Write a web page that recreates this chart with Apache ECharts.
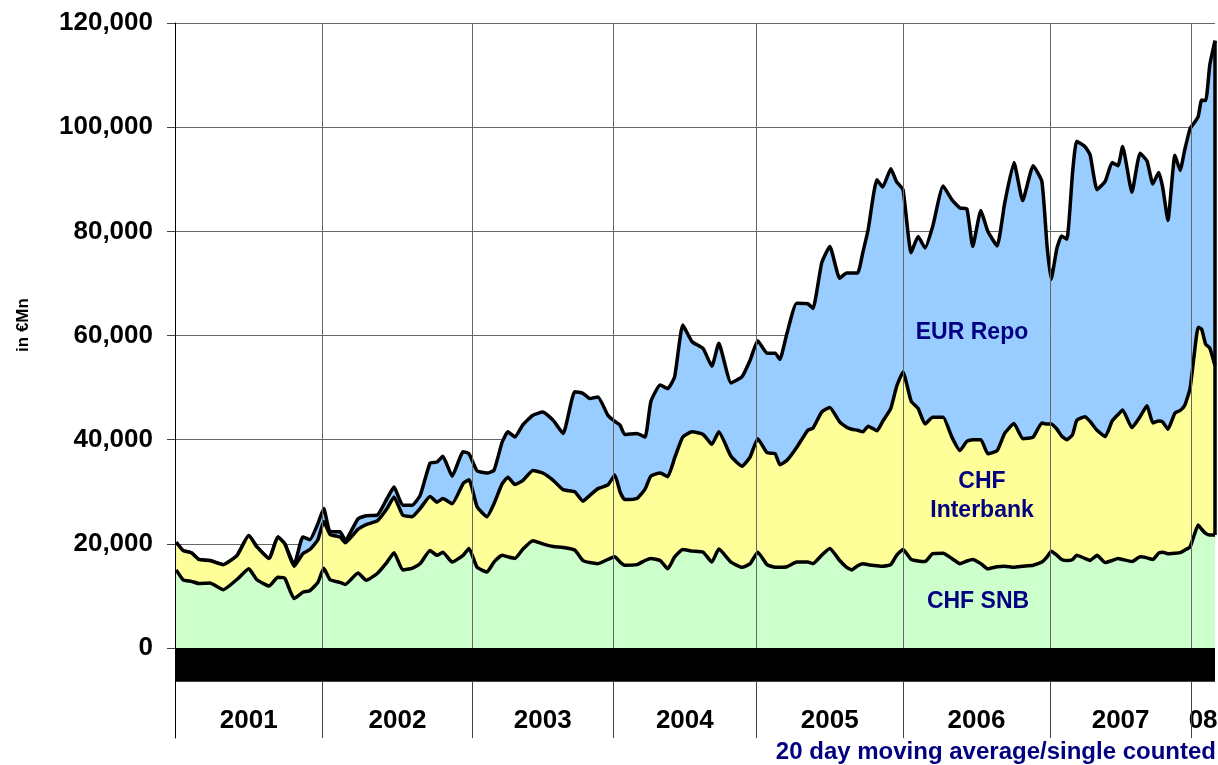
<!DOCTYPE html>
<html>
<head>
<meta charset="utf-8">
<title>CHF SNB / CHF Interbank / EUR Repo</title>
<script src="https://cdn.jsdelivr.net/npm/echarts@6/dist/echarts.min.js"></script>
<style>
  html, body { margin: 0; padding: 0; background: #fff; }
  #chart { width: 1218px; height: 765px; }
</style>
</head>
<body>
<div id="chart"></div>
<script>
// business-day index since start of 2001 (x axis)
var dayIndex = [
  2, 14, 28, 41, 60, 83, 107, 127, 141, 162, 177, 189, 205, 220, 232, 246,
  256, 267, 284, 293, 315, 329, 348, 365, 377, 392, 408, 422, 439, 451, 461, 477, 496,
  506, 520, 537, 549, 563, 573, 585, 599, 616, 633, 651, 668, 688, 702, 714, 728, 745,
  757, 766, 774, 795, 809, 819, 835, 848, 860, 874, 890, 909, 924, 936, 957, 976, 990,
  1003, 1019, 1033, 1041, 1053, 1070, 1089, 1098, 1113, 1127, 1144, 1156, 1165, 1175, 1184, 1193, 1208, 1218, 1232, 1242,
  1253, 1267, 1279, 1291, 1304, 1322, 1337, 1351, 1363, 1373, 1387, 1399, 1415, 1428, 1444, 1459, 1477, 1492,
  1501, 1508, 1518, 1526, 1535, 1545, 1552, 1566, 1575, 1587, 1601, 1613, 1623, 1631, 1647, 1661, 1673, 1683, 1693, 1700, 1709, 1721, 1730, 1738, 1747,
  1754, 1761, 1767, 1774, 1781, 1790
];

// CHF SNB (in €Mn)
var snbTop = [
  15000, 13100, 12800, 12400, 12500, 11200, 13200, 15200, 13100, 11900, 13600, 13400, 9500, 10700, 11000, 12600,
  15300, 13100, 12600, 12200, 14400, 13000, 14300, 16500, 18300, 15000, 15300, 16200, 18700, 17800, 18400, 16500, 17800,
  19100, 15500, 14600, 16500, 17800, 17500, 17200, 19000, 20600, 20000, 19500, 19300, 18800, 16800, 16400, 16200, 17000,
  17500, 16500, 15900, 16000, 16800, 17200, 16800, 15200, 17500, 18900, 18600, 18400, 16500, 19000, 16500, 15500, 16200,
  18400, 16000, 15500, 15500, 15600, 16500, 16500, 16200, 17800, 19100, 16800, 15500, 15000, 15800, 16200, 16000, 15800, 15700, 16000, 17800,
  18900, 17000, 16700, 16600, 18100, 18200, 17200, 16200, 16700, 17000, 16200, 15200, 15600, 15700, 15500, 15700, 15900, 16500,
  17500, 18600, 17800, 17000, 16800, 17000, 17800, 17200, 16800, 17800, 16400, 16800, 17200, 17000, 16600, 17500, 17300, 17000, 18200, 18400, 18100, 18200, 18300, 18800, 19400,
  21600, 23600, 22800, 22000, 21700, 21700
];

// CHF SNB + CHF Interbank (in €Mn)
var interbankTop = [
  20300, 18700, 18300, 17000, 16800, 16000, 17800, 21600, 19400, 17200, 21300, 20000, 15700, 18100, 18900, 20800,
  24300, 21800, 21300, 20200, 22800, 23700, 24400, 26800, 29000, 25500, 25200, 26800, 29100, 28000, 28700, 27700, 31600,
  32300, 27100, 25200, 27700, 31500, 32800, 31400, 32200, 34100, 33600, 32200, 30400, 30000, 28200, 29300, 30600, 31300,
  33200, 30000, 28500, 28700, 30500, 33000, 33600, 32900, 36500, 40500, 41500, 41000, 39100, 41500, 36800, 34900, 36700,
  40200, 37500, 37300, 35200, 36000, 38500, 41800, 42200, 45300, 46200, 43400, 42400, 42000, 41800, 41500, 42600, 41700, 43500, 46000, 50200,
  53000, 47400, 46000, 43000, 44300, 44300, 40500, 37900, 39700, 40000, 40000, 37300, 37900, 41200, 43100, 40200, 40500, 43200,
  43000, 43000, 42000, 40700, 40000, 41000, 43700, 44400, 43500, 41800, 40600, 43600, 44800, 45700, 42300, 44400, 46500, 43200, 43600, 43400, 42000, 45100, 45600, 46600, 49800,
  56100, 61600, 61200, 58300, 57600, 54200
];

// total incl. EUR Repo (in €Mn)
var repoTop = [
  20300, 18700, 18300, 17000, 16800, 16000, 17800, 21600, 19400, 17200, 21300, 20000, 16000, 21300, 20800, 23900,
  26800, 22300, 22300, 20700, 24800, 25400, 25500, 28700, 30900, 27400, 27400, 29300, 35500, 35700, 36800, 33000, 37700,
  37300, 34000, 33600, 34100, 39500, 41500, 40500, 42900, 44700, 45300, 43700, 41200, 49200, 48900, 47900, 48200, 44700,
  43500, 42800, 41000, 41200, 40500, 47300, 50500, 49800, 52100, 62000, 58800, 57500, 54100, 58500, 50900, 52100, 55300,
  59000, 56600, 56600, 55400, 60300, 66200, 66100, 65200, 73900, 77100, 71000, 72000, 72000, 72000, 76000, 80300, 89900, 88500, 92000, 89500,
  88000, 75900, 79000, 76800, 80900, 88700, 86100, 84500, 84300, 77100, 84000, 80000, 77200, 85400, 93200, 85900, 92600, 89600,
  77100, 70800, 76800, 79100, 78500, 91500, 97300, 96300, 94700, 88000, 89600, 93200, 92600, 96300, 87500, 95000, 93500, 89100, 91300, 88400, 82100, 94600, 91700, 95700, 99700,
  100800, 102000, 105200, 105100, 111900, 116600
];

var yearStarts = [0, 254, 512, 754, 1001, 1253, 1506, 1749];
var yearLabels = ['2001', '2002', '2003', '2004', '2005', '2006', '2007', '08'];
var lastDay = 1790;

var barDepth = -6500;      // black band under the zero line
var bandBottom = -17300;   // lower panel extent
var yearLabelLevel = -14000;

var FONT = 'Liberation Sans, Arial, sans-serif';
var NAVY = '#000080';

function pairs (vals) {
  return dayIndex.map(function (d, i) { return [d, vals[i]]; });
}

var yearCenters = yearStarts.map(function (s, i) {
  var e = i < yearStarts.length - 1 ? yearStarts[i + 1] : lastDay;
  return (s + e) / 2;
});

var chart = echarts.init(document.getElementById('chart'), null, { renderer: 'canvas' });

function areaSeries (name, vals, color, z) {
  return {
    name: name,
    type: 'line',
    xAxisIndex: 0,
    yAxisIndex: 0,
    data: pairs(vals),
    symbol: 'none',
    smooth: 0.15,
    z: z,
    lineStyle: { color: '#000', width: 3.5 },
    areaStyle: { color: color, opacity: 1 }
  };
}

chart.setOption({
  animation: false,
  backgroundColor: '#fff',
  textStyle: { fontFamily: FONT },
  grid: [
    { left: 175, right: 3, top: 23, height: 625 },
    { left: 175, right: 3, top: 648, height: 90 }
  ],
  xAxis: [
    { type: 'value', gridIndex: 0, min: 0, max: lastDay, show: false },
    { type: 'value', gridIndex: 1, min: 0, max: lastDay, show: false }
  ],
  yAxis: [
    {
      type: 'value',
      gridIndex: 0,
      min: 0,
      max: 120000,
      interval: 20000,
      axisLine: { show: true, lineStyle: { color: '#000', width: 1 } },
      axisTick: { show: true, length: 8, lineStyle: { color: '#444' } },
      axisLabel: {
        margin: 22,
        fontSize: 26,
        fontWeight: 'bold',
        color: '#000',
        fontFamily: FONT,
        formatter: function (v) { return v.toLocaleString('en-US'); }
      },
      splitLine: { show: true, lineStyle: { color: '#666', width: 1 } }
    },
    {
      type: 'value',
      gridIndex: 1,
      min: bandBottom,
      max: 0,
      axisLine: { show: true, lineStyle: { color: '#000', width: 1 } },
      axisTick: { show: false },
      axisLabel: { show: false },
      splitLine: { show: false }
    }
  ],
  series: [
    areaSeries('EUR Repo', repoTop, '#99CCFF', 2),
    areaSeries('CHF Interbank', interbankTop, '#FFFF99', 3),
    areaSeries('CHF SNB', snbTop, '#CCFFCC', 4),
    {
      // year dividers drawn over the areas + closing edge of the last day
      type: 'line',
      xAxisIndex: 0,
      yAxisIndex: 0,
      data: [],
      z: 6,
      markLine: {
        silent: true,
        symbol: ['none', 'none'],
        label: { show: false },
        lineStyle: { color: '#666', width: 1, type: 'solid' },
        data: yearStarts.slice(1).map(function (d) { return { xAxis: d }; }).concat([
          [
            { coord: [lastDay, snbTop[snbTop.length - 1]], lineStyle: { color: '#000', width: 3.5, type: 'solid' } },
            { coord: [lastDay, repoTop[repoTop.length - 1]] }
          ]
        ])
      }
    },
    {
      // black band + dividers in the lower panel
      type: 'line',
      xAxisIndex: 1,
      yAxisIndex: 1,
      data: [],
      markArea: {
        silent: true,
        itemStyle: { color: '#000', opacity: 1 },
        data: [[{ xAxis: 0, yAxis: barDepth }, { xAxis: lastDay, yAxis: 0 }]]
      },
      markLine: {
        silent: true,
        symbol: ['none', 'none'],
        label: { show: false },
        lineStyle: { color: '#444', width: 1, type: 'solid' },
        data: yearStarts.slice(1).map(function (d) {
          return [{ coord: [d, barDepth] }, { coord: [d, bandBottom] }];
        })
      }
    },
    {
      type: 'scatter',
      xAxisIndex: 1,
      yAxisIndex: 1,
      symbolSize: 0,
      silent: true,
      itemStyle: { opacity: 1 },
      data: yearCenters.map(function (c) { return [c, yearLabelLevel]; }),
      label: {
        show: true,
        position: 'inside',
        fontSize: 26,
        fontWeight: 'bold',
        color: '#000',
        opacity: 1,
        fontFamily: FONT,
        formatter: function (p) { return yearLabels[p.dataIndex]; }
      }
    }
  ],
  graphic: [
    {
      type: 'text', x: 23, y: 325, rotation: Math.PI / 2,
      style: { text: 'in €Mn', font: 'bold 17px ' + FONT, fill: '#000', textAlign: 'center', textVerticalAlign: 'middle' }
    },
    {
      type: 'text', x: 972, y: 333, z: 10,
      style: { text: 'EUR Repo', font: 'bold 23px ' + FONT, fill: NAVY, textAlign: 'center', textVerticalAlign: 'middle' }
    },
    {
      type: 'text', x: 982, y: 482, z: 10,
      style: { text: 'CHF', font: 'bold 23px ' + FONT, fill: NAVY, textAlign: 'center', textVerticalAlign: 'middle' }
    },
    {
      type: 'text', x: 982, y: 511, z: 10,
      style: { text: 'Interbank', font: 'bold 23px ' + FONT, fill: NAVY, textAlign: 'center', textVerticalAlign: 'middle' }
    },
    {
      type: 'text', x: 978, y: 602, z: 10,
      style: { text: 'CHF SNB', font: 'bold 23px ' + FONT, fill: NAVY, textAlign: 'center', textVerticalAlign: 'middle' }
    },
    {
      type: 'text', x: 1216, y: 752, z: 10,
      style: { text: '20 day moving average/single counted', font: 'bold 24px ' + FONT, fill: NAVY, textAlign: 'right', textVerticalAlign: 'middle' }
    }
  ]
});
</script>
</body>
</html>
